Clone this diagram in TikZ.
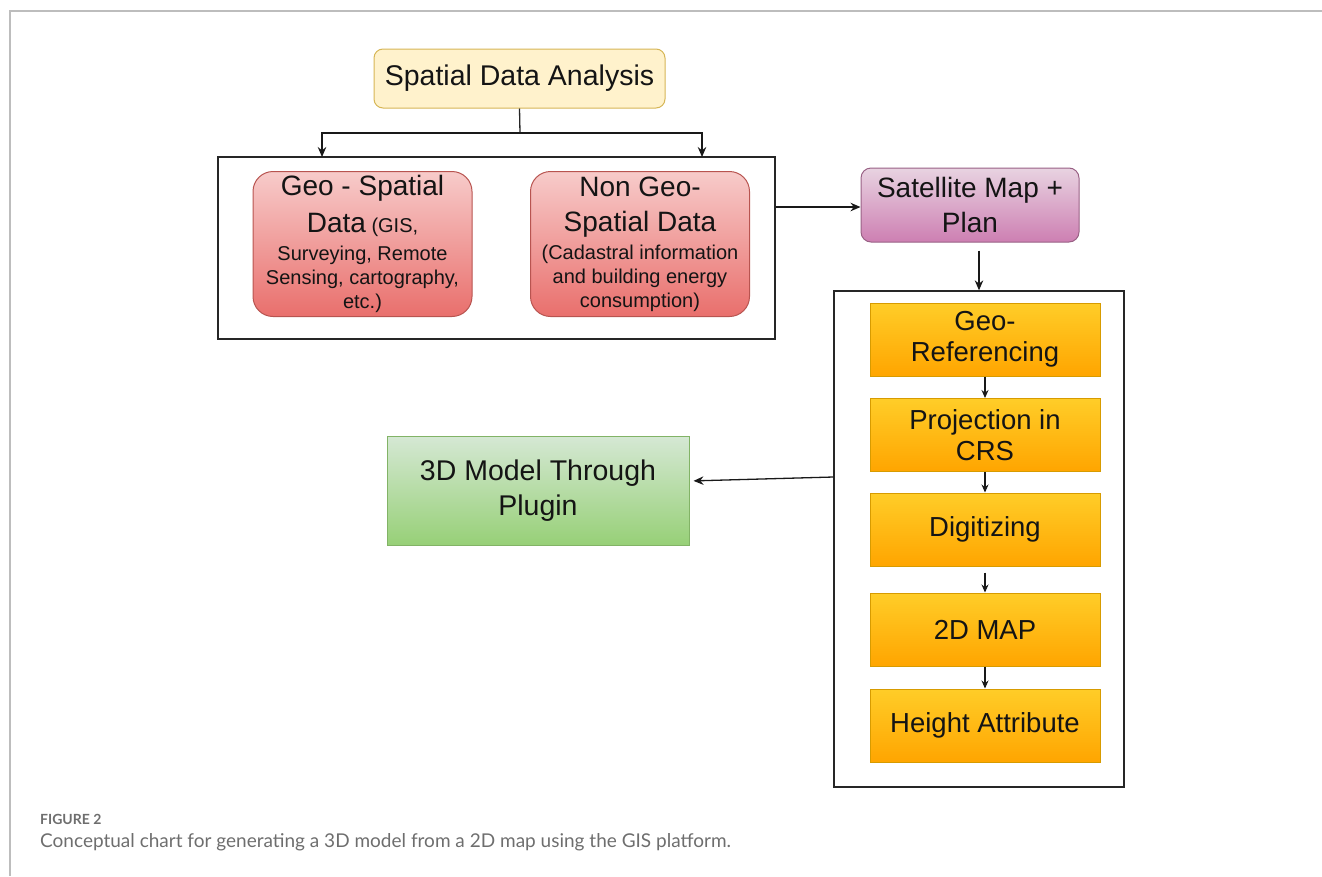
\documentclass[tikz,border=0pt]{standalone}
\usepackage{fontspec}
\setmainfont{Liberation Sans}
\newfontfamily\capfont{Lato}
\usetikzlibrary{arrows.meta}
\definecolor{txt}{HTML}{141414}
\definecolor{yelfill}{HTML}{FFF2CC}
\definecolor{yeldraw}{HTML}{D6B656}
\definecolor{redtop}{HTML}{F7CBCA}
\definecolor{redbot}{HTML}{E96F6C}
\definecolor{reddraw}{HTML}{B85450}
\definecolor{purtop}{HTML}{E8D3E1}
\definecolor{purbot}{HTML}{CD7FB2}
\definecolor{purdraw}{HTML}{996185}
\definecolor{orgtop}{HTML}{FFCD28}
\definecolor{orgbot}{HTML}{FFA500}
\definecolor{orgdraw}{HTML}{D79B00}
\definecolor{grntop}{HTML}{D5E8D4}
\definecolor{grnbot}{HTML}{97D077}
\definecolor{grndraw}{HTML}{82B366}
\definecolor{framegray}{HTML}{BDBDBD}
\definecolor{capgray}{HTML}{6E6E6E}
\begin{document}
\begin{tikzpicture}[x=1pt,y=-1pt,
  box/.style={draw, inner sep=0pt, align=center, text=txt, line width=1pt},
  yelbox/.style={box, font=\fontsize{28.5}{32}\selectfont, fill=yelfill, draw=yeldraw, rounded corners=9pt},
  redbox/.style={box, font=\fontsize{20}{24}\selectfont, top color=redtop, bottom color=redbot, draw=reddraw, rounded corners=20pt, minimum width=219pt, minimum height=145pt},
  purbox/.style={box, font=\fontsize{28}{35}\selectfont, top color=purtop, bottom color=purbot, draw=purdraw, rounded corners=10pt},
  orgbox/.style={box, font=\fontsize{27.5}{31}\selectfont, top color=orgtop, bottom color=orgbot, draw=orgdraw, minimum width=230pt, minimum height=73pt},
  grnbox/.style={box, font=\fontsize{28.5}{35}\selectfont, top color=grntop, bottom color=grnbot, draw=grndraw},
  group/.style={draw=black!85, line width=1.3pt, inner sep=0pt},
  arr/.style={-{Stealth[length=10pt,width=8.5pt]}, line width=1.3pt, draw=black!90},
  sarr/.style={-{Stealth[length=8pt,width=7pt]}, line width=1.2pt, draw=black!90},
  line/.style={line width=1.3pt, draw=black!85}
]
\useasboundingbox (0,0) rectangle (1322,876);
% page frame
\draw[framegray, line width=2pt] (1322,11) -- (10,11) -- (10,876);

% nodes
\node[yelbox, minimum width=291pt, minimum height=59pt] (sda) at (519.5,78.5) {Spatial Data Analysis};
\node[group, minimum width=557pt, minimum height=182pt] (box1) at (496.5,248) {};
\node[redbox] (geo) at (362.5,244) {{\fontsize{28}{32}\selectfont Geo - Spatial}\\[11pt]{\fontsize{28}{32}\selectfont Data} (GIS,\\[4pt]Surveying, Remote\\Sensing, cartography,\\etc.)};
\node[redbox] (ngeo) at (640,244) {{\fontsize{28}{32}\selectfont Non Geo-}\\[11pt]{\fontsize{28}{32}\selectfont Spatial Data}\\[4pt](Cadastral information\\and building energy\\consumption)};
\node[purbox, minimum width=218pt, minimum height=74pt] (sat) at (970,205) {Satellite Map +\\Plan};
\node[group, minimum width=290pt, minimum height=496pt] (box2) at (979,539) {};
\node[orgbox] (gr) at (985,339.5) {Geo-\\Referencing};
\node[orgbox] (pr) at (985,435) {Projection in\\CRS};
\node[orgbox] (dg) at (985,529.5) {Digitizing};
\node[orgbox] (mp) at (985,629.5) {2D MAP};
\node[orgbox] (ht) at (985,725.5) {Height Attribute};
\node[grnbox, minimum width=302pt, minimum height=109pt] (m3d) at (538,490.5) {3D Model Through\\Plugin};

% connectors
\coordinate (split) at (520,133);
\draw[line] (sda.south) -- (split);
\draw[arr] (split) -- (322,133) -- (322,157);
\draw[arr] (split) -- (702,133) -- (702,157);
\draw[arr] (box1.east |- 0,207) -- (sat.west |- 0,207);
\draw[arr, shorten <=8pt] (sat.south -| 979,0) -- (box2.north -| 979,0);
\draw[sarr] (gr.south) -- (pr.north);
\draw[sarr] (pr.south) -- (dg.north);
\draw[sarr, shorten <=6pt] (dg.south) -- (mp.north);
\draw[sarr] (mp.south) -- (ht.north);
\draw[arr, shorten >=4pt] (box2.west |- 0,477) -- (m3d.east |- 0,481);

% caption
\node[anchor=base west, inner sep=0pt, text=capgray, font=\capfont\bfseries\fontsize{14}{16}\selectfont] (figno) at (40,824) {FIGURE 2};
\node[anchor=base west, inner sep=0pt, text=capgray, font=\capfont\fontsize{19}{22}\selectfont] (cap) at (40,847) {Conceptual chart for generating a 3D model from a 2D map using the GIS platform.};
\end{tikzpicture}
\end{document}
